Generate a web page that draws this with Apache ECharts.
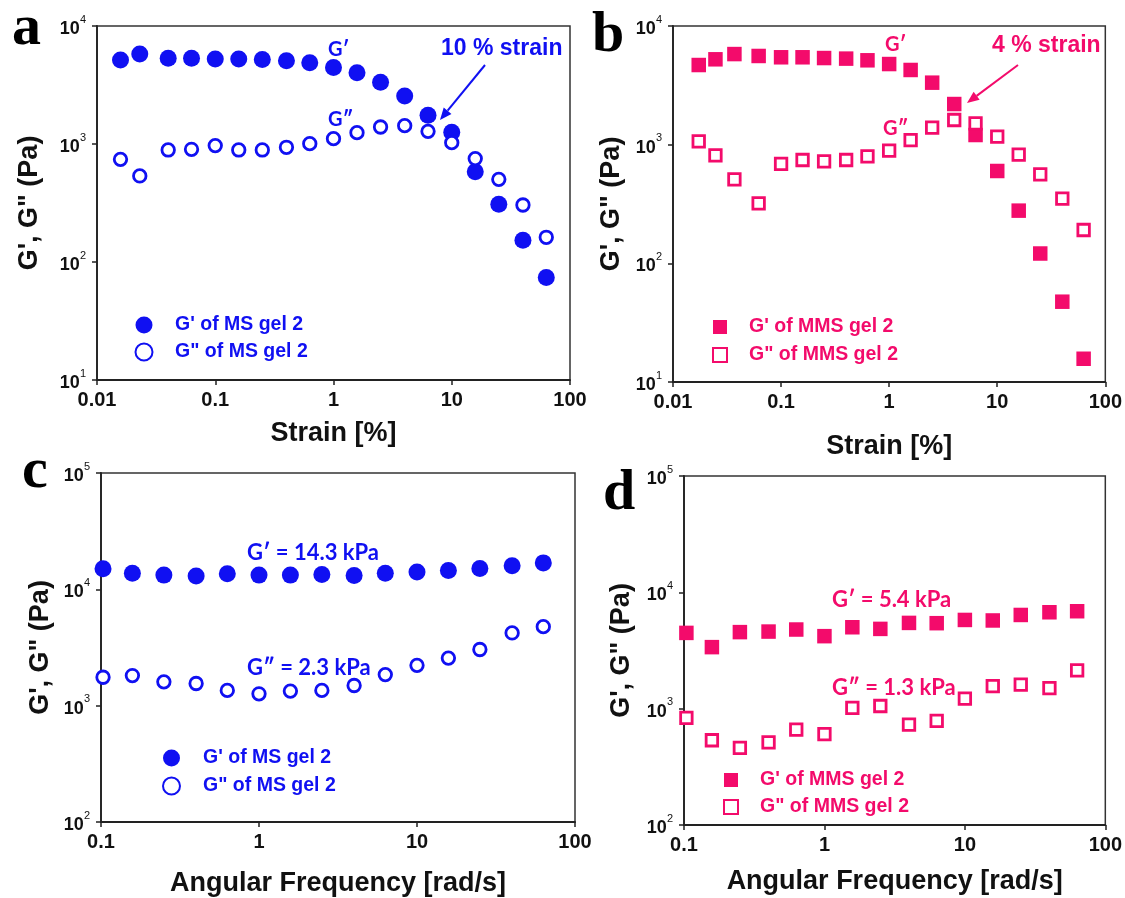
<!DOCTYPE html>
<html><head><meta charset="utf-8">
<script src="https://cdn.jsdelivr.net/npm/echarts@6/dist/echarts.min.js"></script>
<style>html,body{margin:0;padding:0;background:#fff}#c{width:1125px;height:898px}</style>
</head><body><div id="c"></div>
<script>
// ---------- data ----------
const strainA = [0.0158, 0.023, 0.04, 0.063, 0.1, 0.158, 0.25, 0.4, 0.63, 1, 1.58, 2.5, 4, 6.3, 10, 15.8, 25, 40, 63];
const gPrimeA = [5150, 5790, 5320, 5320, 5260, 5260, 5190, 5080, 4890, 4440, 4020, 3330, 2550, 1750, 1256, 583, 308, 153, 74];
const gDoubleA = [741, 536, 890, 902, 969, 890, 890, 938, 1007, 1110, 1248, 1393, 1430, 1280, 1026, 752, 502, 304, 162];

const strainB = [0.0173, 0.0247, 0.037, 0.062, 0.1, 0.158, 0.25, 0.4, 0.63, 1, 1.58, 2.5, 4, 6.3, 10, 15.8, 25, 40, 63];
const gPrimeB = [4690, 5240, 5800, 5590, 5450, 5450, 5370, 5310, 5140, 4780, 4260, 3330, 2200, 1206, 600, 278, 121, 47.5, 15.7];
const gDoubleB = [1067, 813, 510, 320, 688, 743, 724, 743, 798, 890, 1094, 1390, 1614, 1513, 1167, 824, 562, 351, 191];

const freqC = [0.103, 0.158, 0.25, 0.4, 0.63, 1, 1.58, 2.5, 4, 6.3, 10, 15.8, 25, 40, 63];
const gPrimeC = [15000, 13770, 13250, 13000, 13600, 13250, 13250, 13430, 13150, 13770, 14070, 14540, 15100, 15930, 16880];
const gDoubleC = [1755, 1815, 1602, 1550, 1352, 1265, 1334, 1352, 1490, 1849, 2222, 2565, 3040, 4217, 4775];

const freqD = [0.104, 0.158, 0.25, 0.4, 0.63, 1, 1.58, 2.5, 4, 6.3, 10, 15.8, 25, 40, 63];
const gPrimeD = [4480, 3380, 4550, 4600, 4790, 4200, 5010, 4850, 5460, 5430, 5790, 5730, 6390, 6740, 6880];
const gDoubleD = [832, 535, 460, 514, 661, 603, 1014, 1054, 729, 784, 1219, 1565, 1607, 1504, 2131];

const strainTicks = ['0.01', '0.1', '1', '10', '100'];
const freqTicks = ['0.1', '1', '10', '100'];

const nameGpMS = "G' of MS gel 2", nameGppMS = 'G" of MS gel 2';
const nameGpMMS = "G' of MMS gel 2", nameGppMMS = 'G" of MMS gel 2';

// ---------- style ----------
const BLUE = '#1010f2', PINK = '#f30b6b', AX = '#222';
const SANS = 'Liberation Sans';

const chart = echarts.init(document.getElementById('c'));

const grids = [
  {left: 97, top: 26, width: 473, height: 354},
  {left: 673, top: 26, width: 433, height: 356},
  {left: 101, top: 473, width: 474, height: 352},
  {left: 684, top: 476, width: 424, height: 349}
].map(g => Object.assign({show: true, borderColor: '#333', borderWidth: 1.5, backgroundColor: 'transparent'}, g));

function xAxis(i, min, max, labels, name, nameGap) {
  return {
    type: 'log', logBase: 10, gridIndex: i, min: min, max: max,
    name: name, nameLocation: 'middle', nameGap: nameGap,
    nameTextStyle: {fontFamily: SANS, fontWeight: 'bold', fontSize: 27, color: '#111'},
    axisLine: {show: true, onZero: false, lineStyle: {color: AX, width: 1.8}},
    axisTick: {show: true, inside: false, length: 5, lineStyle: {color: AX, width: 1.5}},
    minorTick: {show: false}, splitLine: {show: false},
    axisLabel: {margin: 10, fontFamily: SANS, fontWeight: 'bold', fontSize: 20, color: '#111',
      formatter: v => labels[Math.round(Math.log10(v) - Math.log10(min))]}
  };
}
function yAxis(i, min, max, nameGap) {
  return {
    type: 'log', logBase: 10, gridIndex: i, min: min, max: max,
    name: "G', G\" (Pa)", nameLocation: 'middle', nameGap: nameGap,
    nameTextStyle: {fontFamily: SANS, fontWeight: 'bold', fontSize: 27, color: '#111'},
    axisLine: {show: true, onZero: false, lineStyle: {color: AX, width: 1.8}},
    axisTick: {show: true, inside: false, length: 5, lineStyle: {color: AX, width: 1.5}},
    minorTick: {show: false}, splitLine: {show: false},
    axisLabel: {margin: 11, color: '#111',
      formatter: v => '{b|10}{s|' + Math.round(Math.log10(v)) + '}',
      rich: {
        b: {fontFamily: SANS, fontWeight: 'bold', fontSize: 18, lineHeight: 24, verticalAlign: 'bottom', color: '#111'},
        s: {fontFamily: SANS, fontSize: 11, lineHeight: 12, verticalAlign: 'top', color: '#111'}
      }}
  };
}

function pts(xs, ys) { return xs.map((x, k) => [x, ys[k]]); }
function filled(name, i, xs, ys, sym, size, color) {
  return {type: 'scatter', name: name, xAxisIndex: i, yAxisIndex: i, data: pts(xs, ys),
    symbol: sym, symbolSize: size, itemStyle: {color: color, borderWidth: 0, opacity: 1},
    emphasis: {disabled: true}, z: 2};
}
function open(name, i, xs, ys, sym, size, color) {
  return {type: 'scatter', name: name, xAxisIndex: i, yAxisIndex: i, data: pts(xs, ys),
    symbol: sym, symbolSize: size, itemStyle: {color: '#fff', borderColor: color, borderWidth: 2.8, opacity: 1},
    emphasis: {disabled: true}, z: 3};
}

function legend(left, top, names, color, iconSize, pad, gap) {
  return {left: left, top: top, padding: 0, orient: 'vertical', itemGap: gap, itemWidth: iconSize, itemHeight: iconSize,
    data: names, selectedMode: false,
    textStyle: {color: color, fontFamily: SANS, fontWeight: 'bold', fontSize: 19.5, lineHeight: 20, padding: [0, 0, 0, pad]}};
}

function txt(x, y, s, color, size, family, align) {
  return {type: 'text', x: x, y: y, z: 10,
    style: {text: s, fill: color, fontSize: size, fontFamily: family, fontWeight: 'bold',
      align: align || 'left', verticalAlign: 'middle'}};
}
function arrow(x1, y1, x2, y2, color) {
  const dx = x2 - x1, dy = y2 - y1, L = Math.hypot(dx, dy), ux = dx / L, uy = dy / L;
  const hl = 12, hw = 5, bx = x2 - hl * ux, by = y2 - hl * uy;
  return [
    {type: 'line', z: 10, shape: {x1: x1, y1: y1, x2: bx, y2: by}, style: {stroke: color, lineWidth: 2}},
    {type: 'polygon', z: 10, shape: {points: [[x2, y2], [bx - hw * uy, by + hw * ux], [bx + hw * uy, by - hw * ux]]}, style: {fill: color}}
  ];
}
const SERIF = 'Liberation Serif', ANN = 'Lato';

const graphics = [
  txt(12, 29, 'a', '#000', 58, SERIF),
  txt(592, 36, 'b', '#000', 58, SERIF),
  txt(22, 472, 'c', '#000', 58, SERIF),
  txt(603, 494, 'd', '#000', 58, SERIF),
  txt(328, 50, 'G\u2032', BLUE, 20, ANN),
  txt(328, 120, 'G\u2033', BLUE, 20, ANN),
  txt(441, 49, '10 % strain', BLUE, 23, SANS),
  txt(885, 45, 'G\u2032', PINK, 20, ANN),
  txt(883, 129, 'G\u2033', PINK, 20, ANN),
  txt(992, 46, '4 % strain', PINK, 23, SANS),
  txt(247, 553, 'G\u2032 = 14.3 kPa', BLUE, 22, ANN),
  txt(247, 668, 'G\u2033 = 2.3 kPa', BLUE, 22, ANN),
  txt(832, 600, 'G\u2032 = 5.4 kPa', PINK, 22, ANN),
  txt(832, 688, 'G\u2033 = 1.3 kPa', PINK, 22, ANN)
].concat(arrow(485, 65, 440, 120, BLUE), arrow(1018, 65, 967, 103, PINK));

chart.setOption({
  animation: false,
  backgroundColor: '#fff',
  grid: grids,
  xAxis: [
    xAxis(0, 0.01, 100, strainTicks, 'Strain [%]', 40),
    xAxis(1, 0.01, 100, strainTicks, 'Strain [%]', 51),
    xAxis(2, 0.1, 100, freqTicks, 'Angular Frequency [rad/s]', 48),
    xAxis(3, 0.1, 100, freqTicks, 'Angular Frequency [rad/s]', 43)
  ],
  yAxis: [
    yAxis(0, 10, 10000, 54),
    yAxis(1, 10, 10000, 48),
    yAxis(2, 100, 100000, 47),
    yAxis(3, 100, 100000, 49)
  ],
  legend: [
    legend(134.5, 315, [nameGpMS, nameGppMS], BLUE, 17, 17.5, 7),
    legend(712, 317, [nameGpMMS, nameGppMMS], PINK, 14, 17, 8),
    legend(162, 748, [nameGpMS, nameGppMS], BLUE, 17, 18, 8),
    legend(723, 770, [nameGpMMS, nameGppMMS], PINK, 14, 17, 7)
  ],
  series: [
    filled(nameGpMS, 0, strainA, gPrimeA, 'circle', 17, BLUE),
    open(nameGppMS, 0, strainA, gDoubleA, 'circle', 12.5, BLUE),
    filled(nameGpMMS, 1, strainB, gPrimeB, 'rect', 14.5, PINK),
    open(nameGppMMS, 1, strainB, gDoubleB, 'rect', 11.5, PINK),
    filled(nameGpMS, 2, freqC, gPrimeC, 'circle', 17, BLUE),
    open(nameGppMS, 2, freqC, gDoubleC, 'circle', 12.5, BLUE),
    filled(nameGpMMS, 3, freqD, gPrimeD, 'rect', 14.5, PINK),
    open(nameGppMMS, 3, freqD, gDoubleD, 'rect', 11.5, PINK)
  ],
  graphic: graphics
});
</script>
</body></html>
